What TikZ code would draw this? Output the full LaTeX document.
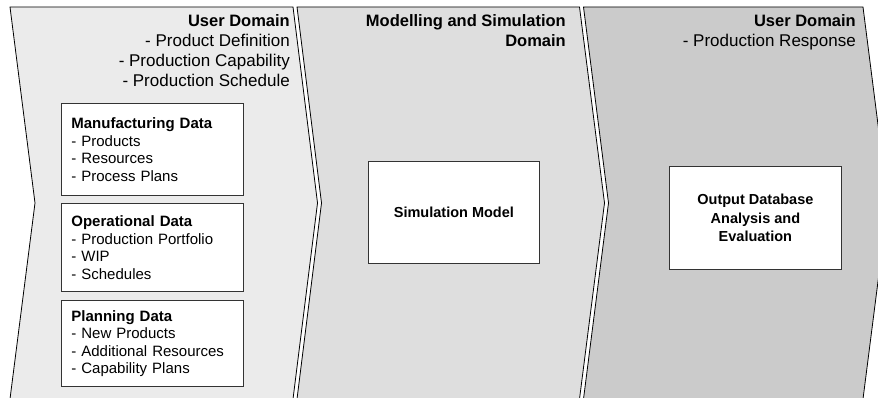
\documentclass[tikz,border=0pt]{standalone}
\usepackage{fontspec}
\setmainfont{Liberation Sans}
\definecolor{cfillA}{HTML}{EBEBEB}
\definecolor{cfillB}{HTML}{DEDEDE}
\definecolor{cfillC}{HTML}{CBCBCB}
\begin{document}
\begin{tikzpicture}[x=1pt,y=-1pt,
  chev/.style={draw=black, line width=0.8pt, line join=miter},
  databox/.style={draw=black!80, fill=white, line width=0.8pt, inner xsep=10pt, inner ysep=0pt,
    text width=162pt, align=left, anchor=north west, font=\fontsize{15}{17.5}\selectfont},
  centerbox/.style={draw=black!80, fill=white, line width=0.8pt, inner sep=0pt, align=center,
    anchor=north west, font=\bfseries\fontsize{14.5}{18.5}\selectfont},
  hdr/.style={anchor=north east, align=right, inner sep=0pt, font=\fontsize{17}{20}\selectfont}]
\useasboundingbox (0,0) rectangle (878,398);
\fill[white] (0,0) rectangle (878,398);
\begin{scope}
\clip (0,0) rectangle (878,398);
\path[chev, fill=cfillA] (10,7) -- (293,7) -- (317.5,203) -- (293,399) -- (10,399) -- (35,203) -- cycle;
\path[chev, fill=cfillB] (297,7) -- (579.5,7) -- (604.5,203) -- (579.5,399) -- (297,399) -- (321.5,203) -- cycle;
\path[chev, fill=cfillC] (583.5,7) -- (863,7) -- (888,203) -- (863,399) -- (583.5,399) -- (608.5,203) -- cycle;
\end{scope}

\node[hdr] (h1) at (290,14.5) {{\bfseries\fontsize{16.5}{20}\selectfont User Domain}\\- Product Definition\\- Production Capability\\- Production Schedule};
\node[hdr, font=\bfseries\fontsize{16.5}{20}\selectfont] (h2) at (566,14.5) {Modelling and Simulation\\Domain};
\node[hdr] (h3) at (856,14.5) {{\bfseries\fontsize{16.5}{20}\selectfont User Domain}\\- Production Response};

\node[databox, minimum height=92pt] (mfg) at (61,103) {\textbf{Manufacturing Data}\\- Products\\- Resources\\- Process Plans};
\node[databox, minimum height=88pt] (ops) at (61,203) {\textbf{Operational Data}\\- Production Portfolio\\- WIP\\- Schedules};
\node[databox, minimum height=86pt] (plan) at (61,300) {\textbf{Planning Data}\\- New Products\\- Additional Resources\\- Capability Plans};

\node[centerbox, minimum width=171pt, minimum height=102pt] (sim) at (368,161) {Simulation Model};
\node[centerbox, minimum width=172pt, minimum height=103pt] (out) at (669,166) {Output Database\\Analysis and\\Evaluation};
\end{tikzpicture}
\end{document}
